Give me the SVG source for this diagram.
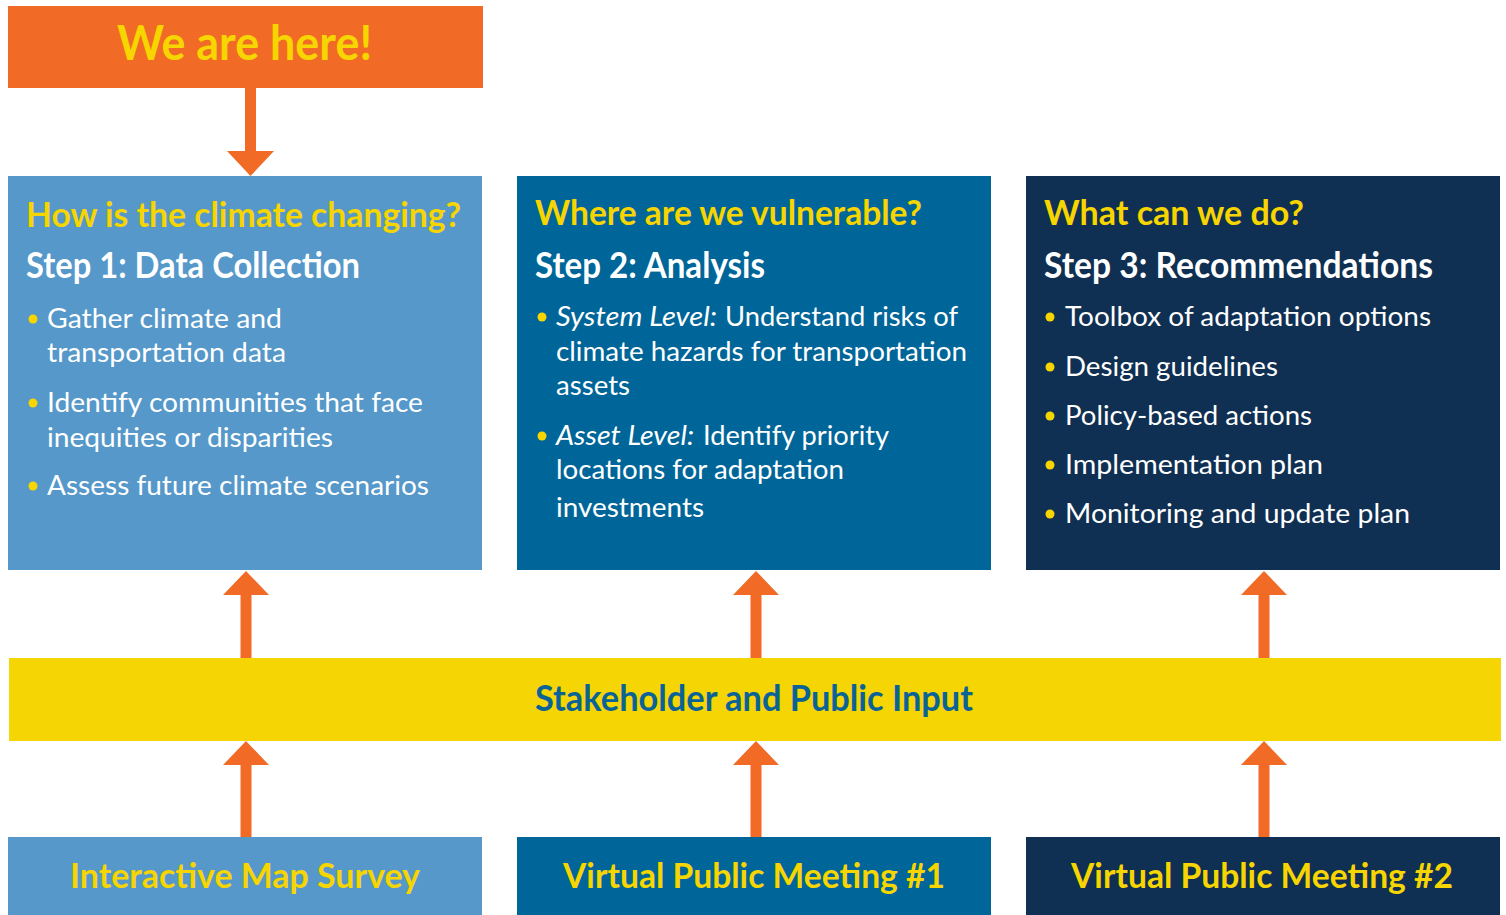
<svg xmlns="http://www.w3.org/2000/svg" width="1506" height="915" viewBox="0 0 1506 915">
<style>
text{font-family:Lato,"Open Sans","Liberation Sans",sans-serif}
.h{font-weight:bold;fill:#F7D500;font-size:34px}
.s{font-weight:bold;fill:#FFFFFF;font-size:37px}
.b{fill:#FFFFFF;font-size:27px}
.i{font-style:italic}
.dot{fill:#F7D500}
.arr{fill:#F26B26}
.lbl{font-weight:bold;fill:#F7D500;font-size:34px}
</style>
<rect width="1506" height="915" fill="#FFFFFF"/>
<g id="connectors">
<path class="arr" d="M245 88H256V151H274L250.5 176L227 151H245Z"/>
<path class="arr" d="M240.5 658V595H223L246 571L269 595H251.5V658Z"/>
<path class="arr" d="M750.5 658V595H733L756 571L779 595H761.5V658Z"/>
<path class="arr" d="M1258.5 658V595H1241L1264 571L1287 595H1269.5V658Z"/>
<path class="arr" d="M240.5 837V765H223L246 741L269 765H251.5V837Z"/>
<path class="arr" d="M750.5 837V765H733L756 741L779 765H761.5V837Z"/>
<path class="arr" d="M1258.5 837V765H1241L1264 741L1287 765H1269.5V837Z"/>
</g>
<g id="here">
<rect x="8" y="6" width="475" height="82" fill="#F26B26"/>
<text x="117" y="60" font-weight="bold" font-size="47" fill="#F7D500" textLength="255" lengthAdjust="spacingAndGlyphs">We are here!</text>
</g>
<g id="step1">
<rect x="8" y="176" width="474" height="394" fill="#5598C9"/>
<text class="h" x="26" y="227" textLength="435" lengthAdjust="spacingAndGlyphs">How is the climate changing?</text>
<text class="s" x="26" y="278" textLength="334" lengthAdjust="spacingAndGlyphs">Step 1: Data Collection</text>
<circle class="dot" cx="33" cy="319" r="4.5"/>
<text class="b" x="47" y="328" textLength="235" lengthAdjust="spacingAndGlyphs">Gather climate and</text>
<text class="b" x="47" y="362" textLength="239" lengthAdjust="spacingAndGlyphs">transportation data</text>
<circle class="dot" cx="33" cy="403" r="4.5"/>
<text class="b" x="47" y="412" textLength="376" lengthAdjust="spacingAndGlyphs">Identify communities that face</text>
<text class="b" x="47" y="447" textLength="286" lengthAdjust="spacingAndGlyphs">inequities or disparities</text>
<circle class="dot" cx="33" cy="486" r="4.5"/>
<text class="b" x="47" y="495" textLength="382" lengthAdjust="spacingAndGlyphs">Assess future climate scenarios</text>
</g>
<g id="step2">
<rect x="517" y="176" width="474" height="394" fill="#006699"/>
<text class="h" x="535" y="225" textLength="387" lengthAdjust="spacingAndGlyphs">Where are we vulnerable?</text>
<text class="s" x="535" y="278" textLength="230" lengthAdjust="spacingAndGlyphs">Step 2: Analysis</text>
<circle class="dot" cx="542" cy="317" r="4.5"/>
<text class="b i" x="556" y="326" textLength="161" lengthAdjust="spacingAndGlyphs">System Level:</text>
<text class="b" x="725" y="326" textLength="233" lengthAdjust="spacingAndGlyphs">Understand risks of</text>
<text class="b" x="556" y="361" textLength="411" lengthAdjust="spacingAndGlyphs">climate hazards for transportation</text>
<text class="b" x="556" y="395" textLength="74" lengthAdjust="spacingAndGlyphs">assets</text>
<circle class="dot" cx="542" cy="436" r="4.5"/>
<text class="b i" x="556" y="445" textLength="138" lengthAdjust="spacingAndGlyphs">Asset Level:</text>
<text class="b" x="703" y="445" textLength="186" lengthAdjust="spacingAndGlyphs">Identify priority</text>
<text class="b" x="556" y="479" textLength="288" lengthAdjust="spacingAndGlyphs">locations for adaptation</text>
<text class="b" x="556" y="517" textLength="148" lengthAdjust="spacingAndGlyphs">investments</text>
</g>
<g id="step3">
<rect x="1026" y="176" width="474" height="394" fill="#0F3052"/>
<text class="h" x="1044" y="225" textLength="260" lengthAdjust="spacingAndGlyphs">What can we do?</text>
<text class="s" x="1044" y="278" textLength="389" lengthAdjust="spacingAndGlyphs">Step 3: Recommendations</text>
<circle class="dot" cx="1050" cy="317" r="4.5"/>
<text class="b" x="1065" y="326" textLength="366" lengthAdjust="spacingAndGlyphs">Toolbox of adaptation options</text>
<circle class="dot" cx="1050" cy="367" r="4.5"/>
<text class="b" x="1065" y="376" textLength="213" lengthAdjust="spacingAndGlyphs">Design guidelines</text>
<circle class="dot" cx="1050" cy="416" r="4.5"/>
<text class="b" x="1065" y="425" textLength="247" lengthAdjust="spacingAndGlyphs">Policy-based actions</text>
<circle class="dot" cx="1050" cy="465" r="4.5"/>
<text class="b" x="1065" y="474" textLength="258" lengthAdjust="spacingAndGlyphs">Implementation plan</text>
<circle class="dot" cx="1050" cy="514" r="4.5"/>
<text class="b" x="1065" y="523" textLength="345" lengthAdjust="spacingAndGlyphs">Monitoring and update plan</text>
</g>
<g id="input">
<rect x="9" y="658" width="1492" height="83" fill="#F5D504"/>
<text x="535" y="711" font-weight="bold" font-size="36" fill="#0A6397" textLength="438" lengthAdjust="spacingAndGlyphs">Stakeholder and Public Input</text>
</g>
<g id="survey">
<rect x="8" y="837" width="474" height="78" fill="#5598C9"/>
<text class="lbl" x="70" y="888" textLength="350" lengthAdjust="spacingAndGlyphs">Interactive Map Survey</text>
</g>
<g id="meeting1">
<rect x="517" y="837" width="474" height="78" fill="#006699"/>
<text class="lbl" x="563" y="888" textLength="382" lengthAdjust="spacingAndGlyphs">Virtual Public Meeting #1</text>
</g>
<g id="meeting2">
<rect x="1026" y="837" width="474" height="78" fill="#0F3052"/>
<text class="lbl" x="1071" y="888" textLength="382" lengthAdjust="spacingAndGlyphs">Virtual Public Meeting #2</text>
</g>
</svg>
